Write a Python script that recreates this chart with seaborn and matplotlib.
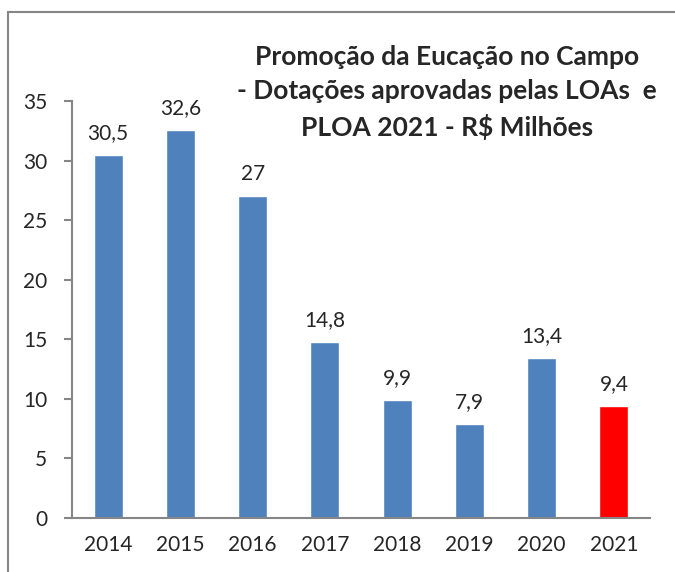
import numpy as np
import pandas as pd
import matplotlib.pyplot as plt
import seaborn as sns

years = ["2014", "2015", "2016", "2017", "2018", "2019", "2020", "2021"]
values = [30.5, 32.6, 27, 14.8, 9.9, 7.9, 13.4, 9.4]
bar_colors = ["#4F81BD"] * 7 + ["#FF0000"]
title = "Promoção da Eucação no Campo\n- Dotações aprovadas pelas LOAs  e\nPLOA 2021 - R$ Milhões"


def main():
    sns.set_style("white")
    plt.rcParams["font.family"] = ["Lato", "DejaVu Sans"]

    df = pd.DataFrame({"ano": years, "valor": values})

    fig = plt.figure(figsize=(6.75, 5.72), dpi=100)
    ax = fig.add_axes([0.1067, 0.0944, 0.8563, 0.729])

    sns.barplot(df, x="ano", y="valor", hue="ano", palette=bar_colors,
                width=0.4, legend=False, ax=ax, saturation=1)

    for i, v in enumerate(values):
        lab = f"{v:g}".replace(".", ",")
        ax.text(i, v + 1.0, lab, ha="center", va="bottom", fontsize=15)

    ax.set_ylim(0, 35)
    ax.set_xlim(-0.5, len(years) - 0.5)
    ax.set_yticks(range(0, 36, 5))
    ax.set_xlabel("")
    ax.set_ylabel("")
    for s in ["top", "right"]:
        ax.spines[s].set_visible(False)
    for s in ["left", "bottom"]:
        ax.spines[s].set_color("#868686")
        ax.spines[s].set_linewidth(1.5)

    ax.set_xticks(np.arange(-0.5, len(years)), minor=True)
    ax.tick_params(axis="x", which="major", length=0, labelsize=15, pad=12)
    ax.tick_params(axis="x", which="minor", length=6, width=1.5, color="#868686", direction="out")
    ax.tick_params(axis="y", length=6, width=1.5, color="#868686", direction="out",
                   labelsize=15, pad=12, left=True)

    fig.text(0.662, 0.922, title, ha="center", va="top", fontsize=19,
             fontweight="bold", linespacing=1.52)

    # chart border (left and top visible)
    fig.add_artist(plt.Line2D([0.012, 0.012], [0.0, 0.979], color="#868686", lw=1.5))
    fig.add_artist(plt.Line2D([0.012, 1.0], [0.979, 0.979], color="#868686", lw=1.5))

    fig.savefig("out.png", dpi=100)


if __name__ == "__main__":
    main()
